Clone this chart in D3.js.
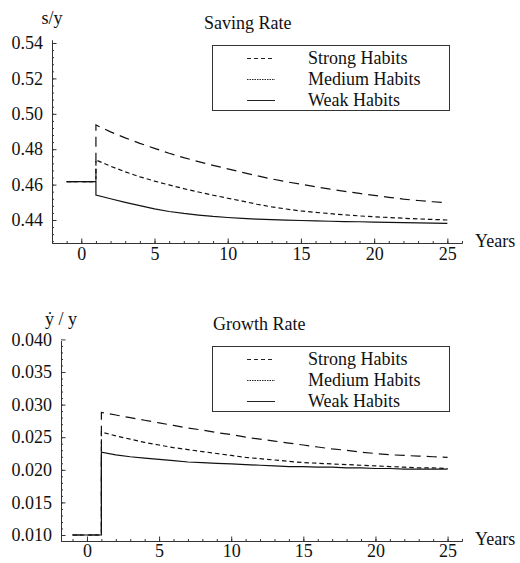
<!DOCTYPE html>
<html>
<head>
<meta charset="utf-8">
<script src="https://cdn.jsdelivr.net/npm/d3@7"></script>
<style>
  body { margin: 0; background: #fff; }
  svg text { font-family: "Liberation Serif", "DejaVu Serif", serif; fill: #111; }
</style>
</head>
<body>
<script>
// years after the shock (shock hits at year 1)
var years = [1, 2, 3, 4, 5, 6, 7, 8, 9, 10, 11, 12, 13, 14, 15, 16, 17, 18, 19, 20, 21, 22, 23, 24, 25];
var preYears = [-1, 1];

// saving rate s/y
var savingPre = 0.4617;
var savingStrong = [0.4937, 0.4898, 0.4864, 0.4833, 0.4805, 0.4777, 0.4752, 0.4730, 0.4709, 0.4689, 0.4669, 0.4650, 0.4632,
  0.4616, 0.4602, 0.4588, 0.4574, 0.4562, 0.4550, 0.4539, 0.4528, 0.4518, 0.4510, 0.4503, 0.4497];
var savingMedium = [0.4739, 0.4704, 0.4672, 0.4644, 0.4620, 0.4598, 0.4577, 0.4558, 0.4540, 0.4523, 0.4507, 0.4489, 0.4474,
  0.4462, 0.4451, 0.4443, 0.4436, 0.4429, 0.4423, 0.4418, 0.4414, 0.4410, 0.4406, 0.4403, 0.4400];
var savingWeak = [0.4541, 0.4520, 0.4500, 0.4481, 0.4463, 0.4448, 0.4437, 0.4428, 0.4420, 0.4414, 0.4409, 0.4405, 0.4402,
  0.4399, 0.4397, 0.4395, 0.4393, 0.4391, 0.4390, 0.4388, 0.4387, 0.4385, 0.4384, 0.4382, 0.4381];

// growth rate ydot/y
var growthPre = 0.0100;
var growthStrong = [0.0288, 0.0284, 0.0280, 0.0276, 0.0272, 0.0268, 0.0264, 0.0261, 0.0257, 0.0254, 0.0250, 0.0247, 0.0244,
  0.0241, 0.0238, 0.0235, 0.0232, 0.0230, 0.0227, 0.0225, 0.0223, 0.0222, 0.0221, 0.0220, 0.0219];
var growthMedium = [0.0258, 0.0252, 0.0247, 0.0242, 0.0238, 0.0234, 0.0231, 0.0228, 0.0225, 0.0222, 0.0219, 0.0217, 0.0215,
  0.0213, 0.0211, 0.0210, 0.0209, 0.0208, 0.0207, 0.0206, 0.0205, 0.0204, 0.0203, 0.0203, 0.0202];
var growthWeak = [0.0227, 0.0223, 0.0220, 0.0218, 0.0216, 0.0214, 0.0212, 0.0211, 0.0210, 0.0209, 0.0208, 0.0207, 0.0206,
  0.0205, 0.0205, 0.0204, 0.0204, 0.0203, 0.0203, 0.0202, 0.0202, 0.0201, 0.0201, 0.0201, 0.0201];

var seriesNames = ["Strong Habits", "Medium Habits", "Weak Habits"];
var xTicks = [0, 5, 10, 15, 20, 25];
var savingTicks = [0.44, 0.46, 0.48, 0.50, 0.52, 0.54];
var growthTicks = [0.010, 0.015, 0.020, 0.025, 0.030, 0.035, 0.040];

var dashes = ["10,6", "4.5,3", null];
var legendDashes = ["4,3", "1.5,1", null];

var serif = "'Liberation Serif', 'DejaVu Serif', serif";

var svg = d3.select("body").append("svg")
  .attr("width", 520)
  .attr("height", 563)
  .attr("font-family", serif);

function drawPanel(p) {
  var g = svg.append("g");

  var x = d3.scaleLinear().domain(p.xDomain).range(p.xRange);
  var y = d3.scaleLinear().domain(p.yDomain).range(p.yRange);

  // minor ticks
  var xMinor = d3.range(Math.ceil(p.xDomain[0]), Math.floor(p.xDomain[1]) + 1);
  var yMinor = d3.range(Math.ceil(p.yDomain[0] / p.yMinorStep - 1e-6), Math.floor(p.yDomain[1] / p.yMinorStep + 1e-6) + 1)
    .map(function (k) { return k * p.yMinorStep; });

  var xAxisY = p.yRange[0];
  var yAxisX = p.xRange[0];

  g.append("g")
    .attr("transform", "translate(0," + xAxisY + ")")
    .call(d3.axisBottom(x).tickValues(xMinor).tickSizeInner(-2).tickSizeOuter(0).tickFormat(""));
  g.append("g")
    .attr("transform", "translate(0," + xAxisY + ")")
    .call(d3.axisBottom(x).tickValues(xTicks).tickSizeInner(-4.5).tickSizeOuter(0).tickPadding(p.xPad).tickFormat(d3.format("d")));

  g.append("g")
    .attr("transform", "translate(" + yAxisX + ",0)")
    .call(d3.axisLeft(y).tickValues(yMinor).tickSizeInner(-2).tickSizeOuter(0).tickFormat(""));
  g.append("g")
    .attr("transform", "translate(" + yAxisX + ",0)")
    .call(d3.axisLeft(y).tickValues(p.yTicks).tickSizeInner(-4.5).tickSizeOuter(0).tickPadding(9).tickFormat(d3.format(p.yFormat)));

  g.selectAll("g").attr("font-family", serif).attr("font-size", 18);
  g.selectAll(".domain").attr("stroke", "#333").attr("stroke-width", 1);
  g.selectAll(".tick line").attr("stroke", "#333");
  g.selectAll(".tick text").attr("fill", "#111");

  // axis labels
  g.append("text")
    .attr("x", yAxisX)
    .attr("y", p.yRange[1] - 16)
    .attr("text-anchor", "middle")
    .style("font-size", "18px")
    .text(p.yLabel);

  g.append("text")
    .attr("x", 475)
    .attr("y", xAxisY + 4)
    .style("font-size", "18px")
    .text("Years");

  g.append("text")
    .attr("x", p.titleX)
    .attr("y", p.legendTop - 17)
    .style("font-size", "18px")
    .text(p.title);

  // series
  var line = d3.line()
    .x(function (d) { return x(d.t); })
    .y(function (d) { return y(d.v); });

  p.series.forEach(function (vals, i) {
    var pts = preYears.map(function (t) { return { t: t, v: p.pre }; })
      .concat(years.map(function (t, j) { return { t: t, v: vals[j] }; }));
    g.append("path")
      .datum(pts)
      .attr("fill", "none")
      .attr("stroke", "#111")
      .attr("stroke-width", 1.2)
      .attr("stroke-dasharray", dashes[i])
      .attr("d", line);
  });

  // legend
  var lg = g.append("g");
  lg.append("rect")
    .attr("x", 212.5)
    .attr("y", p.legendTop)
    .attr("width", 237)
    .attr("height", 65)
    .attr("fill", "#fff")
    .attr("stroke", "#333")
    .attr("stroke-width", 1);

  seriesNames.forEach(function (name, i) {
    var base = p.legendTop + 18 + i * 21;
    lg.append("line")
      .attr("x1", 247).attr("x2", 275)
      .attr("y1", base - 5).attr("y2", base - 5)
      .attr("stroke", "#222")
      .attr("stroke-width", 1)
      .attr("stroke-dasharray", legendDashes[i]);
    lg.append("text")
      .attr("x", 308)
      .attr("y", base)
      .style("font-size", "18px")
      .text(name);
  });
}

drawPanel({
  xDomain: [-2, 26], xRange: [52, 462],
  yDomain: [0.427, 0.5417], yRange: [243, 40],
  yMinorStep: 0.004, yTicks: savingTicks, yFormat: ".2f",
  yLabel: "s/y", title: "Saving Rate", titleX: 204, legendTop: 45.5,
  xPad: 4, pre: savingPre,
  series: [savingStrong, savingMedium, savingWeak]
});

drawPanel({
  xDomain: [-1.8, 26], xRange: [61, 462],
  yDomain: [0.00908, 0.0398], yRange: [541, 340.7],
  yMinorStep: 0.001, yTicks: growthTicks, yFormat: ".3f",
  yLabel: "\u1E8F / y", title: "Growth Rate", titleX: 213, legendTop: 346.5,
  xPad: 3, pre: growthPre,
  series: [growthStrong, growthMedium, growthWeak]
});
</script>
</body>
</html>
